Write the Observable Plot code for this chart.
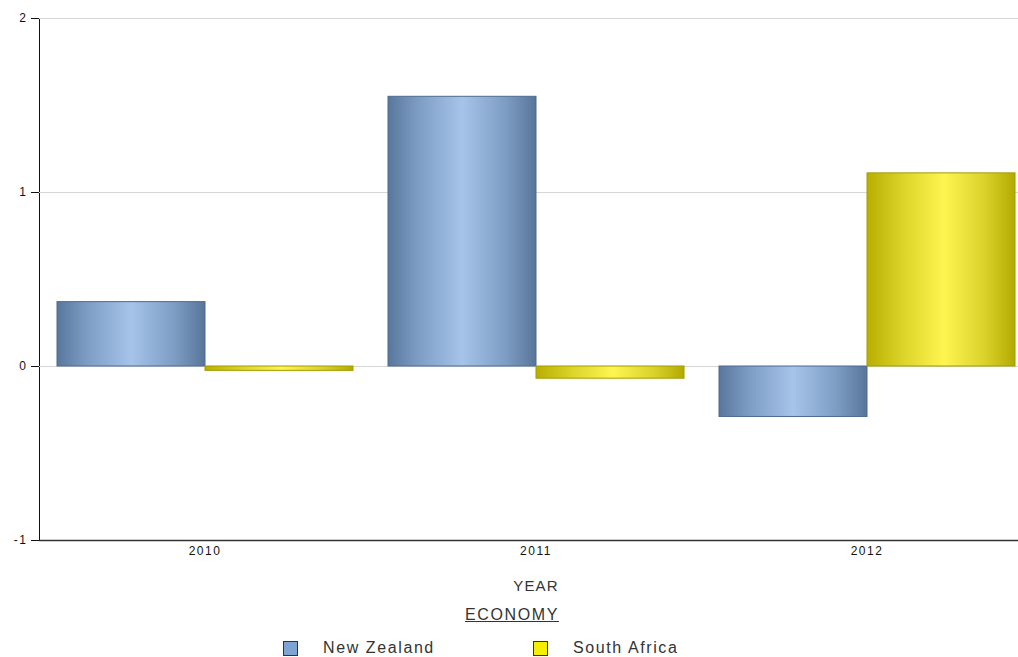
<!DOCTYPE html>
<html>
<head>
<meta charset="utf-8">
<script src="https://cdn.jsdelivr.net/npm/d3@7"></script>
<script src="https://cdn.jsdelivr.net/npm/@observablehq/plot@0.6"></script>
<style>
  html, body { margin: 0; padding: 0; background: #fff; }
  #wrap { width: 1018px; height: 657px; position: relative; overflow: hidden; font-family: "Liberation Sans", Arial, sans-serif; color: #333; }
  #chart svg text { letter-spacing: 1.5px; }
  #chart svg [aria-label="fx-axis label"] text { font-size: 15px; letter-spacing: 1.2px; fill: #333; }
  #legendTitle { position: absolute; top: 606px; left: 0; width: 1018px; text-align: center; }
  #legendTitle span { font-size: 16px; letter-spacing: 1.6px; text-decoration: underline; margin-left: 6px; }
  .item { position: absolute; top: 639px; font-size: 16px; letter-spacing: 1.6px; line-height: 18px; }
  .sw { position: absolute; top: 2px; width: 13px; height: 13px; border: 1px solid #333; }
  .item .lab { position: absolute; top: 0; white-space: nowrap; }
</style>
</head>
<body>
<div id="wrap">
  <div id="chart"></div>
  <div id="legendTitle"><span>ECONOMY</span></div>
  <div id="legend"></div>
</div>
<script>
// ---- data ----
const years = ["2010", "2011", "2012"];
const economies = ["New Zealand", "South Africa"];
const newZealand = [0.37, 1.55, -0.29];
const southAfrica = [-0.025, -0.07, 1.11];
const yTicks = [-1, 0, 1, 2];

// ---- styles ----
const barFill = { "New Zealand": "url(#gradNZ)", "South Africa": "url(#gradSA)" };
const barEdge = { "New Zealand": "#4d6b8f", "South Africa": "#a39c00" };
const swatchColor = { "New Zealand": "#7ea4d3", "South Africa": "#f5ee00" };

const rows = [];
years.forEach((y, i) => {
  rows.push({ year: y, economy: economies[0], value: newZealand[i] });
  rows.push({ year: y, economy: economies[1], value: southAfrica[i] });
});

const plot = Plot.plot({
  width: 1018,
  height: 600,
  marginTop: 18,
  marginLeft: 38,
  marginRight: -14,
  marginBottom: 60,
  style: { fontFamily: "Liberation Sans, Arial, sans-serif", fontSize: "12px", color: "#111", background: "#fff" },
  fx: {
    domain: years,
    paddingInner: 0,
    paddingOuter: 0,
    tickSize: 0,
    tickPadding: 6,
    label: "YEAR",
    labelAnchor: "center",
    labelOffset: 50
  },
  x: { domain: economies, paddingInner: 0, paddingOuter: 0.111, axis: null },
  y: {
    domain: [-1, 2],
    ticks: yTicks,
    tickFormat: d => String(d),
    tickSize: 8,
    tickPadding: 4,
    label: null,
    line: true
  },
  color: { type: "identity" },
  marks: [
    Plot.ruleY(yTicks.filter(t => t > -1), { stroke: "#d6d6d6", strokeWidth: 1 }),
    Plot.barY(rows, {
      fx: "year",
      x: "economy",
      y: "value",
      fill: d => barFill[d.economy],
      stroke: d => barEdge[d.economy],
      strokeWidth: 1
    }),
    Plot.ruleY([-1], { stroke: "#333", strokeWidth: 1.5 })
  ]
});

// gradient definitions used by the bars
const defs = d3.select(plot).insert("defs", ":first-child");
function grad(id, stops) {
  const g = defs.append("linearGradient").attr("id", id).attr("x1", 0).attr("x2", 1).attr("y1", 0).attr("y2", 0);
  stops.forEach(([o, c]) => g.append("stop").attr("offset", o).attr("stop-color", c));
}
grad("gradNZ", [[0, "#59779c"], [0.2, "#7d9cc4"], [0.5, "#a6c4ea"], [0.8, "#7d9cc3"], [1, "#587599"]]);
grad("gradSA", [[0, "#b9ae00"], [0.25, "#dcd52a"], [0.52, "#fff551"], [0.8, "#d9d22a"], [1, "#b3aa00"]]);

document.getElementById("chart").appendChild(plot);

// legend
const legend = document.getElementById("legend");
const legendX = [283, 533];
economies.forEach((e, i) => {
  const item = document.createElement("div");
  item.className = "item";
  item.style.left = legendX[i] + "px";
  item.innerHTML = `<div class="sw" style="left:0;background:${swatchColor[e]}"></div><div class="lab" style="left:40px">${e}</div>`;
  legend.appendChild(item);
});
</script>
</body>
</html>
